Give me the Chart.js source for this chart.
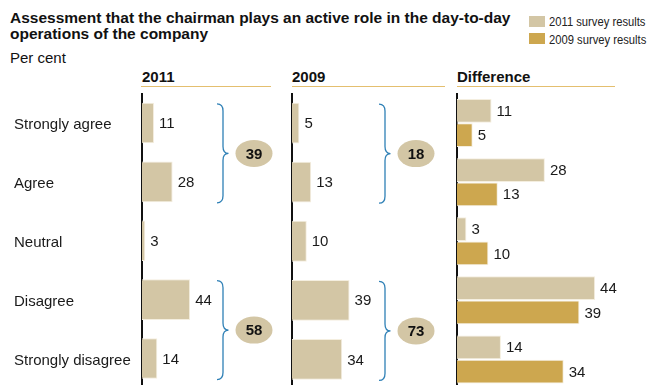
<!DOCTYPE html>
<html>
<head>
<meta charset="utf-8">
<script src="https://cdn.jsdelivr.net/npm/chart.js@4.4.1/dist/chart.umd.min.js"></script>
<style>
  html, body { margin: 0; padding: 0; overflow: hidden; background: #fff; }
  body { width: 651px; height: 385px; position: relative; font-family: "Liberation Sans", Arial, Helvetica, sans-serif; color: #111; }
  canvas { position: absolute; left: 0; top: 0; }
  .txt { position: absolute; white-space: nowrap; }
  .title { left: 10px; top: 10.2px; font-size: 15.5px; line-height: 16.2px; font-weight: bold; }
  .unit { left: 10px; top: 49px; font-size: 15px; line-height: 17px; }
  .head { top: 68px; font-size: 15px; line-height: 17px; font-weight: bold; }
  .rule { position: absolute; top: 85.5px; height: 1.5px; background: #e4bf6f; }
  .swatch { position: absolute; left: 529px; width: 16px; height: 11px; }
  .leg { left: 549px; font-size: 12px; line-height: 14px; color: #222; transform: scaleX(0.935); transform-origin: 0 0; }
</style>
</head>
<body>
<div class="txt title">Assessment that the chairman plays an active role in the day-to-day<br>operations of the company</div>
<div class="txt unit">Per cent</div>

<div class="swatch" style="top:15.5px;background:#d3c6a5"></div>
<div class="txt leg" style="top:15px">2011 survey results</div>
<div class="swatch" style="top:33px;background:#cda74f"></div>
<div class="txt leg" style="top:32.5px">2009 survey results</div>

<div class="txt head" style="left:142px">2011</div>
<div class="txt head" style="left:292px">2009</div>
<div class="txt head" style="left:457px">Difference</div>
<div class="rule" style="left:141px;width:130px"></div>
<div class="rule" style="left:292px;width:153px"></div>
<div class="rule" style="left:457px;width:158px"></div>

<canvas id="c2011" width="651" height="400"></canvas>
<canvas id="c2009" width="651" height="400"></canvas>
<canvas id="cDiff" width="651" height="400"></canvas>

<script>
const categories = ['Strongly agree', 'Agree', 'Neutral', 'Disagree', 'Strongly disagree'];
const values2011 = [11, 28, 3, 44, 14];
const values2009 = [5, 13, 10, 39, 34];
// rows summed in the bubbles: agree side and disagree side
const groups = [[0, 1], [3, 4]];

const TAN = '#d3c6a5';
const GOLD = '#cda74f';
const EDGE = '#f4eedf';
const BRACE = '#2f80b6';
const FONT = '"Liberation Sans", Arial, Helvetica, sans-serif';

// numbers written just past the end of each bar
const valueLabels = {
  id: 'valueLabels',
  afterDatasetsDraw(chart) {
    const ctx = chart.ctx;
    ctx.save();
    ctx.font = '15px ' + FONT;
    ctx.fillStyle = '#1a1a1a';
    ctx.textBaseline = 'middle';
    chart.data.datasets.forEach((ds, i) => {
      chart.getDatasetMeta(i).data.forEach((bar, j) => {
        ctx.fillText(String(ds.data[j]), bar.x + 5, bar.y + 1);
      });
    });
    ctx.restore();
  }
};

// curly brace over two rows plus an oval with their total
const braces = {
  id: 'braces',
  afterDraw(chart, args, opts) {
    if (opts.endX == null) return;
    const ctx = chart.ctx;
    const y = chart.scales.y;
    const data = chart.data.datasets[0].data;
    const x0 = opts.endX, x1 = opts.endX + 6, x2 = opts.endX + 11.5;
    const r = 7;
    groups.forEach(([a, b]) => {
      const top = y.getPixelForValue(a) - 19;
      const bot = y.getPixelForValue(b) + 21;
      const mid = (top + bot) / 2;
      ctx.save();
      ctx.strokeStyle = BRACE;
      ctx.lineWidth = 1.3;
      ctx.beginPath();
      ctx.moveTo(x0, top);
      ctx.quadraticCurveTo(x1, top, x1, top + r);
      ctx.lineTo(x1, mid - r);
      ctx.quadraticCurveTo(x1, mid, x2, mid);
      ctx.moveTo(x2, mid);
      ctx.quadraticCurveTo(x1, mid, x1, mid + r);
      ctx.lineTo(x1, bot - r);
      ctx.quadraticCurveTo(x1, bot, x0, bot);
      ctx.stroke();

      const cx = x2 + 25.5;
      ctx.fillStyle = TAN;
      ctx.beginPath();
      ctx.ellipse(cx, mid, 18.5, 13.5, 0, 0, Math.PI * 2);
      ctx.fill();

      ctx.fillStyle = '#111';
      ctx.font = 'bold 15px ' + FONT;
      ctx.textAlign = 'center';
      ctx.textBaseline = 'middle';
      ctx.fillText(String(data[a] + data[b]), cx, mid + 1);
      ctx.restore();
    });
  }
};

function panel(id, datasets, o) {
  return new Chart(document.getElementById(id), {
    type: 'bar',
    data: { labels: categories, datasets: datasets },
    plugins: [valueLabels, braces],
    options: {
      indexAxis: 'y',
      responsive: false,
      animation: false,
      layout: { padding: { left: o.padLeft, right: 651 - o.right, top: 93.5, bottom: 11 } },
      plugins: {
        legend: { display: false },
        tooltip: { enabled: false },
        braces: o.braces || {}
      },
      datasets: {
        bar: {
          categoryPercentage: o.catPct,
          barPercentage: o.barPct,
          borderWidth: 1,
          borderColor: EDGE,
          borderSkipped: 'start'
        }
      },
      scales: {
        x: { display: false, min: 0, max: o.xMax },
        y: {
          display: true,
          grid: { display: false },
          border: { display: true, color: '#111', width: 2 },
          ticks: {
            display: o.showLabels,
            crossAlign: 'far',
            labelOffset: 2,
            color: '#1a1a1a',
            font: { family: FONT, size: 15 }
          },
          afterFit(scale) { scale.width = o.axisWidth; }
        }
      }
    }
  });
}

panel('c2011', [{ label: '2011', data: values2011, backgroundColor: TAN }], {
  padLeft: 14, axisWidth: 128, right: 282, xMax: 128,
  catPct: 1, barPct: 0.69, showLabels: true,
  braces: { endX: 217 }
});

panel('c2009', [{ label: '2009', data: values2009, backgroundColor: TAN }], {
  padLeft: 292, axisWidth: 0, right: 447, xMax: 105,
  catPct: 1, barPct: 0.69, showLabels: false,
  braces: { endX: 379 }
});

panel('cDiff', [
  { label: '2011 survey results', data: values2011, backgroundColor: TAN },
  { label: '2009 survey results', data: values2009, backgroundColor: GOLD }
], {
  padLeft: 457, axisWidth: 0, right: 640, xMax: 58.3,
  catPct: 0.82, barPct: 0.98, showLabels: false
});
</script>
</body>
</html>
